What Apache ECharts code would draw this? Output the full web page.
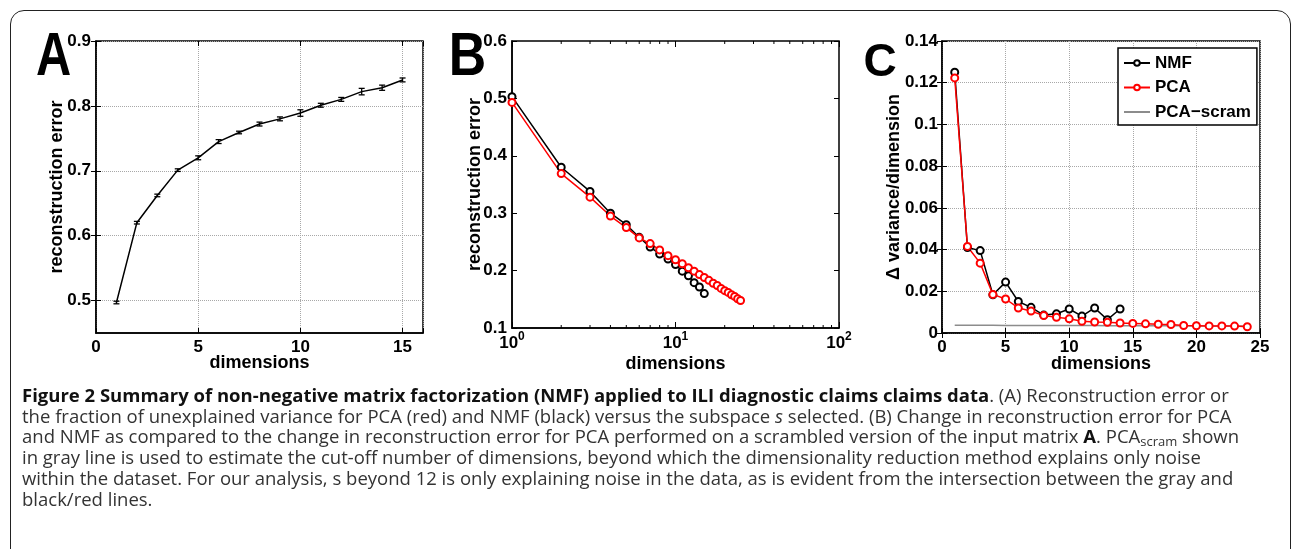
<!DOCTYPE html>
<html>
<head>
<meta charset="utf-8">
<script src="https://cdn.jsdelivr.net/npm/echarts@6/dist/echarts.min.js"></script>
<style>
html, body { margin: 0; padding: 0; background: #fff; }
body { width: 1292px; height: 549px; position: relative; overflow: hidden; }
#chart { position: absolute; left: 0; top: 0; width: 1292px; height: 549px; }
.frame {
    position: absolute; left: 10px; top: 10px; width: 1281px; height: 620px;
    border: 1.5px solid #222; border-radius: 14px; box-sizing: border-box; pointer-events: none;
}
.caption {
    position: absolute; left: 22px; top: 385px;
    font-family: "Open Sans", Lato, sans-serif; font-size: 18.5px; line-height: 20.7px;
    color: #333; white-space: nowrap;
}
.caption b { color: #111; }
.caption sub { font-size: 13px; line-height: 0; vertical-align: -3px; }
</style>
</head>
<body>
<div class="frame"></div>
<div id="chart"></div>
<div class="caption">
<div><b>Figure 2 Summary of non-negative matrix factorization (NMF) applied to ILI diagnostic claims claims data</b>. (A) Reconstruction error or</div>
<div>the fraction of unexplained variance for PCA (red) and NMF (black) versus the subspace <i>s</i> selected. (B) Change in reconstruction error for PCA</div>
<div>and NMF as compared to the change in reconstruction error for PCA performed on a scrambled version of the input matrix <b>A</b>. PCA<sub>scram</sub> shown</div>
<div>in gray line is used to estimate the cut-off number of dimensions, beyond which the dimensionality reduction method explains only noise</div>
<div>within the dataset. For our analysis, s beyond 12 is only explaining noise in the data, as is evident from the intersection between the gray and</div>
<div>black/red lines.</div>
</div>

<script>
// panel A: reconstruction error vs dimensions (with error bars)
var dimsA = [1, 2, 3, 4, 5, 6, 7, 8, 9, 10, 11, 12, 13, 14, 15];
var reconA = [0.497, 0.620, 0.662, 0.701, 0.720, 0.745, 0.759, 0.772, 0.780, 0.789, 0.801, 0.810, 0.822, 0.828, 0.840];
var errA = [0.002, 0.002, 0.002, 0.002, 0.003, 0.003, 0.002, 0.003, 0.003, 0.005, 0.003, 0.003, 0.005, 0.004, 0.003];
var ticksA = [0.5, 0.6, 0.7, 0.8, 0.9];

// panel B: log-x, NMF 1..15, PCA 1..25
var dimsB = [1, 2, 3, 4, 5, 6, 7, 8, 9, 10, 11, 12, 13, 14, 15, 16, 17, 18, 19, 20, 21, 22, 23, 24, 25];
var nmfB = [0.503, 0.380, 0.338, 0.300, 0.280, 0.258, 0.241, 0.229, 0.220, 0.2105, 0.199, 0.191, 0.179, 0.1715, 0.160];
var pcaB = [0.493, 0.369, 0.328, 0.295, 0.275, 0.257, 0.247, 0.236, 0.226, 0.219, 0.212, 0.205, 0.199, 0.193, 0.188,
            0.183, 0.178, 0.174, 0.169, 0.165, 0.162, 0.158, 0.155, 0.151, 0.148];
var minorB = [2, 3, 4, 5, 6, 7, 8, 9, 20, 30, 40, 50, 60, 70, 80, 90];

// panel C: delta variance / dimension
var dimsC = [1, 2, 3, 4, 5, 6, 7, 8, 9, 10, 11, 12, 13, 14, 15, 16, 17, 18, 19, 20, 21, 22, 23, 24];
var nmfC = [0.125, 0.041, 0.0395, 0.0183, 0.0244, 0.0151, 0.0123, 0.0086, 0.0092, 0.0115, 0.0081, 0.012, 0.0064, 0.0115];
var pcaC = [0.1223, 0.0415, 0.0335, 0.0185, 0.0163, 0.012, 0.0105, 0.0084, 0.0075, 0.0068, 0.0056, 0.0053,
            0.0051, 0.0048, 0.0046, 0.0044, 0.0042, 0.0041, 0.0036, 0.0035, 0.0034, 0.0034, 0.0033, 0.003];
var scramC = [0.0037, 0.0037, 0.0037, 0.0037, 0.0036, 0.0036, 0.0036, 0.0036, 0.0036, 0.0036, 0.0036, 0.0036,
              0.0035, 0.0035, 0.0035, 0.0035, 0.0035, 0.0035, 0.0035, 0.0034, 0.0034, 0.0034, 0.0034, 0.0034];

var FONT = 'Liberation Sans, Arial, sans-serif';
var labelStyle = { fontFamily: FONT, fontWeight: 'bold', fontSize: 17, color: '#000' };
var nameStyle = { fontFamily: FONT, fontWeight: 'bold', fontSize: 18, color: '#000' };
var dotted = { show: true, lineStyle: { type: 'dotted', color: '#a8a8a8', width: 1 } };
var tick = { inside: true, length: 5, lineStyle: { color: '#000', width: 1 } };
var line = { lineStyle: { color: '#000', width: 1.5 } };

function pairs(xs, ys) {
    return ys.map(function (v, i) { return [xs[i], v]; });
}
function fmt(v) {
    return String(+v.toFixed(2));
}
// 镜像坐标轴，只画内侧刻度
function mirror(grid, pos, extra) {
    return Object.assign({
        gridIndex: grid, position: pos, type: 'value',
        axisLine: { show: false }, axisTick: tick, axisLabel: { show: false }, splitLine: { show: false }
    }, extra);
}

var gridBase = { show: true, borderColor: '#000', borderWidth: 1.5, backgroundColor: '#fff', containLabel: false, outerBoundsMode: 'none' };

var option = {
    animation: false,
    grid: [
        Object.assign({ left: 96, top: 41, width: 327, height: 292 }, gridBase),
        Object.assign({ left: 512, top: 41, width: 327, height: 287 }, gridBase),
        Object.assign({ left: 942, top: 41, width: 318, height: 292 }, gridBase)
    ],
    xAxis: [
        {
            gridIndex: 0, type: 'value', min: 0, max: 16, interval: 5,
            axisLine: line, axisTick: tick, splitLine: dotted,
            axisLabel: Object.assign({ margin: 6, formatter: function (v) { return v % 5 === 0 ? v : ''; } }, labelStyle),
            name: 'dimensions', nameLocation: 'middle', nameGap: 21, nameMoveOverlap: false, nameTextStyle: nameStyle
        },
        mirror(0, 'top', { min: 0, max: 16, interval: 5 }),
        {
            gridIndex: 1, type: 'log', logBase: 10, min: 1, max: 100,
            axisLine: line, axisTick: { inside: true, length: 6, lineStyle: { color: '#000' } }, splitLine: { show: false },
            axisLabel: {
                margin: 3,
                formatter: function (v) { return '{b|10}{s|' + Math.round(Math.log10(v)) + '}'; },
                rich: {
                    b: { fontFamily: FONT, fontWeight: 'bold', fontSize: 17, color: '#000', lineHeight: 24 },
                    s: { fontFamily: FONT, fontWeight: 'bold', fontSize: 12, color: '#000', lineHeight: 12, verticalAlign: 'top' }
                }
            },
            name: 'dimensions', nameLocation: 'middle', nameGap: 27, nameMoveOverlap: false, nameTextStyle: nameStyle
        },
        mirror(1, 'top', { type: 'log', logBase: 10, min: 1, max: 100, axisTick: { inside: true, length: 6, lineStyle: { color: '#000' } } }),
        {
            gridIndex: 2, type: 'value', min: 0, max: 25, interval: 5,
            axisLine: line, axisTick: tick, splitLine: dotted,
            axisLabel: Object.assign({ margin: 6 }, labelStyle),
            name: 'dimensions', nameLocation: 'middle', nameGap: 22, nameMoveOverlap: false, nameTextStyle: nameStyle
        },
        mirror(2, 'top', { min: 0, max: 25, interval: 5 })
    ],
    yAxis: [
        {
            gridIndex: 0, type: 'value', min: 0.45, max: 0.9,
            axisLine: line, splitLine: dotted,
            axisTick: Object.assign({ customValues: ticksA }, tick),
            axisLabel: Object.assign({ customValues: ticksA, margin: 5, formatter: function (v) { return v.toFixed(1); } }, labelStyle),
            name: 'reconstruction error', nameLocation: 'middle', nameGap: 30, nameMoveOverlap: false, nameTextStyle: nameStyle
        },
        mirror(0, 'right', { min: 0.45, max: 0.9, axisTick: Object.assign({ customValues: ticksA }, tick) }),
        {
            gridIndex: 1, type: 'value', min: 0.1, max: 0.6, interval: 0.1,
            axisLine: line, axisTick: tick, splitLine: { show: false },
            axisLabel: Object.assign({ margin: 5, formatter: fmt }, labelStyle),
            name: 'reconstruction error', nameLocation: 'middle', nameGap: 28, nameMoveOverlap: false, nameTextStyle: nameStyle
        },
        mirror(1, 'right', { min: 0.1, max: 0.6, interval: 0.1 }),
        {
            gridIndex: 2, type: 'value', min: 0, max: 0.14, interval: 0.02,
            axisLine: line, axisTick: tick, splitLine: dotted,
            axisLabel: Object.assign({ margin: 4, formatter: fmt }, labelStyle),
            name: '\u0394 variance/dimension', nameLocation: 'middle', nameGap: 39, nameMoveOverlap: false, nameTextStyle: nameStyle
        },
        mirror(2, 'right', { min: 0, max: 0.14, interval: 0.02 })
    ],
    legend: {
        orient: 'vertical', left: 1118, top: 48,
        padding: [5, 6, 3, 5], itemGap: 4.5, itemWidth: 26, itemHeight: 7,
        borderColor: '#000', borderWidth: 1.5, backgroundColor: '#fff',
        selectedMode: false,
        textStyle: { fontFamily: FONT, fontWeight: 'bold', fontSize: 17, color: '#000', lineHeight: 20 },
        data: ['NMF', 'PCA', { name: 'PCA\u2212scram', itemStyle: { opacity: 0 } }]
    },
    graphic: [
        { type: 'text', x: 53.5, y: 58, scaleX: 0.8, style: { text: 'A', x: 0, y: 0, textAlign: 'center', textVerticalAlign: 'middle', font: 'bold 61px "Liberation Sans"', fill: '#000' } },
        { type: 'text', x: 467.5, y: 58, scaleX: 0.85, style: { text: 'B', x: 0, y: 0, textAlign: 'center', textVerticalAlign: 'middle', font: 'bold 61px "Liberation Sans"', fill: '#000' } },
        { type: 'text', x: 880, y: 63, style: { text: 'C', x: 0, y: 0, textAlign: 'center', textVerticalAlign: 'middle', font: 'bold 46px "Liberation Sans"', fill: '#000' } }
    ],
    series: [
        {
            type: 'line', xAxisIndex: 0, yAxisIndex: 0,
            data: pairs(dimsA, reconA), symbol: 'none',
            lineStyle: { color: '#000', width: 1.5 }, itemStyle: { color: '#000' }
        },
        {
            // 误差线
            type: 'custom', xAxisIndex: 0, yAxisIndex: 0, silent: true, z: 3,
            data: dimsA.map(function (d, i) { return [d, reconA[i], errA[i]]; }),
            encode: { x: 0, y: 1 },
            renderItem: function (params, api) {
                var x = api.value(0), y = api.value(1), e = api.value(2);
                var hi = api.coord([x, y + e]), lo = api.coord([x, y - e]);
                var st = { stroke: '#000', lineWidth: 1.3 };
                return {
                    type: 'group', children: [
                        { type: 'line', shape: { x1: hi[0], y1: hi[1], x2: lo[0], y2: lo[1] }, style: st },
                        { type: 'line', shape: { x1: hi[0] - 3, y1: hi[1], x2: hi[0] + 3, y2: hi[1] }, style: st },
                        { type: 'line', shape: { x1: lo[0] - 3, y1: lo[1], x2: lo[0] + 3, y2: lo[1] }, style: st }
                    ]
                };
            }
        },
        {
            name: 'NMF (B)', type: 'line', xAxisIndex: 2, yAxisIndex: 2,
            data: pairs(dimsB, nmfB), symbol: 'emptyCircle', symbolSize: 7,
            lineStyle: { color: '#000', width: 1.5 }, itemStyle: { color: '#000', borderWidth: 1.5 }
        },
        {
            name: 'PCA (B)', type: 'line', xAxisIndex: 2, yAxisIndex: 2,
            data: pairs(dimsB, pcaB), symbol: 'emptyCircle', symbolSize: 7,
            lineStyle: { color: '#ff0000', width: 1.5 }, itemStyle: { color: '#ff0000', borderWidth: 1.5 }
        },
        {
            // 对数轴的次刻度
            type: 'custom', xAxisIndex: 2, yAxisIndex: 2, silent: true,
            data: minorB.map(function (v) { return [v, 0.1]; }),
            encode: { x: 0, y: 1 },
            renderItem: function (params, api) {
                var p = api.coord([api.value(0), 0.1]);
                var cs = params.coordSys;
                var st = { stroke: '#000', lineWidth: 1 };
                return {
                    type: 'group', children: [
                        { type: 'line', shape: { x1: p[0], y1: cs.y + cs.height, x2: p[0], y2: cs.y + cs.height - 3 }, style: st },
                        { type: 'line', shape: { x1: p[0], y1: cs.y, x2: p[0], y2: cs.y + 3 }, style: st }
                    ]
                };
            }
        },
        {
            name: 'NMF', type: 'line', xAxisIndex: 4, yAxisIndex: 4,
            data: pairs(dimsC, nmfC), symbol: 'emptyCircle', symbolSize: 7,
            lineStyle: { color: '#000', width: 1.5 }, itemStyle: { color: '#000', borderWidth: 1.5 }
        },
        {
            name: 'PCA', type: 'line', xAxisIndex: 4, yAxisIndex: 4,
            data: pairs(dimsC, pcaC), symbol: 'emptyCircle', symbolSize: 7,
            lineStyle: { color: '#ff0000', width: 1.5 }, itemStyle: { color: '#ff0000', borderWidth: 1.5 }
        },
        {
            name: 'PCA\u2212scram', type: 'line', xAxisIndex: 4, yAxisIndex: 4,
            data: pairs(dimsC, scramC), symbol: 'none', z: 1,
            lineStyle: { color: '#8c8c8c', width: 1.5 }, itemStyle: { color: '#8c8c8c' }
        }
    ]
};

var myChart = echarts.init(document.getElementById('chart'));
myChart.setOption(option);
</script>
</body>
</html>
